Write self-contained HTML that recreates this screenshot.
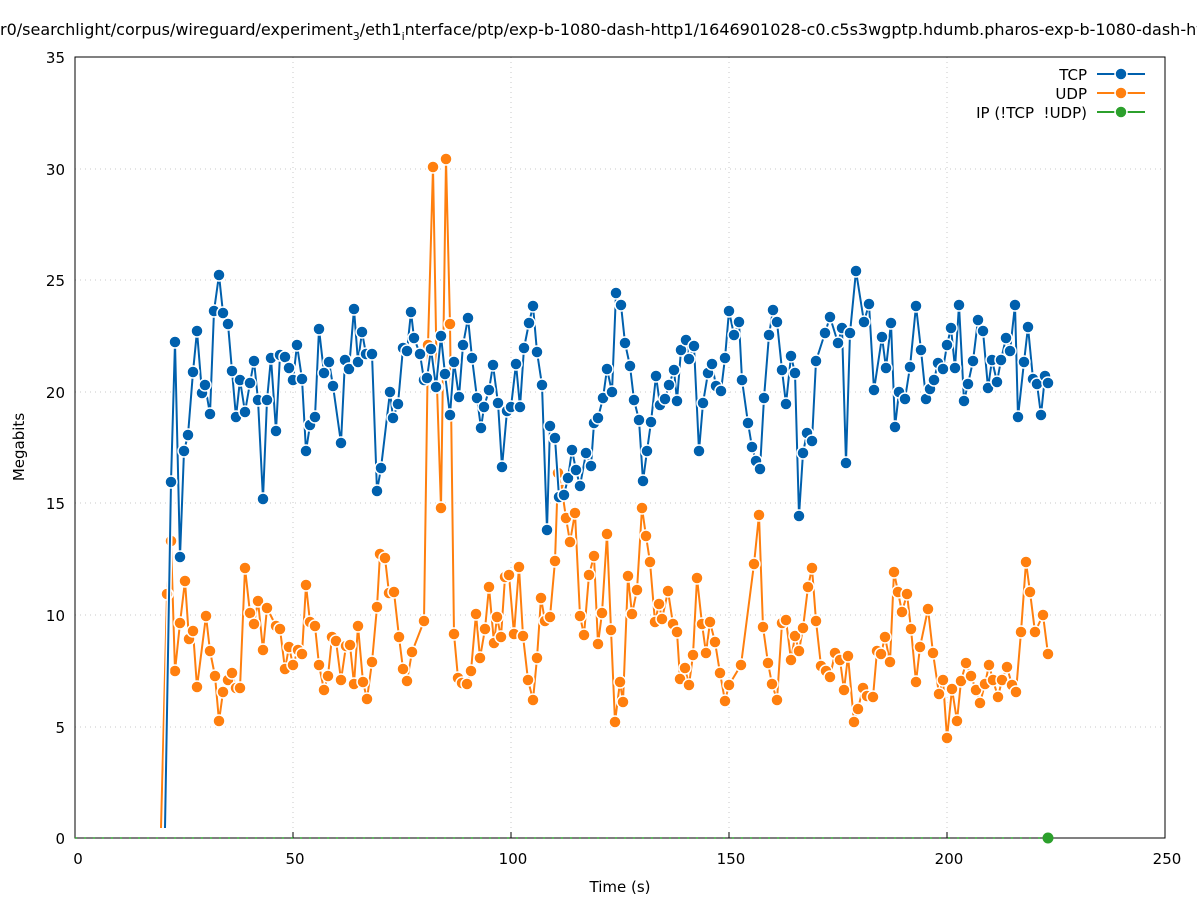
<!DOCTYPE html>
<html><head><meta charset="utf-8"><style>
html,body{margin:0;padding:0;background:#fff;width:1197px;height:900px;overflow:hidden}
svg{display:block;font-family:"DejaVu Sans","Liberation Sans",sans-serif}
</style></head><body>
<svg id="s" width="1197" height="900" viewBox="0 0 1197 900" xmlns="http://www.w3.org/2000/svg">
<rect width="1197" height="900" fill="#fff"/>
<g stroke="#c8c8c8" stroke-width="1" stroke-dasharray="1,4">
<line x1="75" y1="727" x2="1165" y2="727"/><line x1="75" y1="615" x2="1165" y2="615"/><line x1="75" y1="503" x2="1165" y2="503"/><line x1="75" y1="392" x2="1165" y2="392"/><line x1="75" y1="280" x2="1165" y2="280"/><line x1="75" y1="169" x2="1165" y2="169"/>
<line x1="293" y1="57" x2="293" y2="838"/><line x1="511" y1="57" x2="511" y2="838"/><line x1="729" y1="57" x2="729" y2="838"/><line x1="947" y1="57" x2="947" y2="838"/>
</g>
<rect x="75" y="57" width="1090" height="781" fill="none" stroke="#000" stroke-width="1"/>
<g font-size="15" fill="#000" text-anchor="end">
<text x="65" y="844">0</text><text x="65" y="733">5</text><text x="65" y="621">10</text><text x="65" y="509">15</text><text x="65" y="398">20</text><text x="65" y="286">25</text><text x="65" y="175">30</text><text x="65" y="63">35</text>
</g>
<g font-size="15" fill="#000" text-anchor="middle">
<text x="78" y="864">0</text><text x="295" y="864">50</text><text x="513" y="864">100</text><text x="731" y="864">150</text><text x="949" y="864">200</text><text x="1167" y="864">250</text>
<text x="620" y="892">Time (s)</text>
<text x="0" y="0" transform="translate(24,447) rotate(-90)">Megabits</text>
</g>
<g stroke="#000"><line x1="75" y1="838" x2="75" y2="832"/><line x1="293" y1="838" x2="293" y2="832"/><line x1="511" y1="838" x2="511" y2="832"/><line x1="729" y1="838" x2="729" y2="832"/><line x1="947" y1="838" x2="947" y2="832"/></g>
<text x="0" y="35" font-size="16" fill="#000">r0/searchlight/corpus/wireguard/experiment<tspan font-size="11" dy="5">3</tspan><tspan dy="-5">/eth1</tspan><tspan font-size="11" dy="5">i</tspan><tspan dy="-5">nterface/ptp/exp-b-1080-dash-http1/1646901028-c0.c5s3wgptp.hdumb.pharos-exp-b-1080-dash-http1</tspan></text>
<line x1="75" y1="838" x2="1048" y2="838" stroke="#2ca02c" stroke-width="1.5" stroke-dasharray="2,7"/>
<g id="d"></g>
<g font-size="15" fill="#000" text-anchor="end">
<text x="1087" y="80">TCP</text><text x="1087" y="99">UDP</text><text x="1087" y="118" xml:space="preserve">IP (!TCP  !UDP)</text>
</g>
</svg>
<script>
var T=[165,828,171,482,175,342,180,557,184,451,188,435,193,372,197,331,202,393,205,385,210,414,214,311,219,275,223,313,228,324,232,371,236,417,240,380,245,412,250,383,254,361,258,400,263,499,267,400,271,358,276,431,280,355,285,357,289,368,293,380,297,345,302,379,306,451,310,425,315,417,319,329,324,373,329,362,333,386,341,443,345,360,349,369,354,309,358,362,362,332,366,354,372,354,377,491,381,468,390,392,393,418,398,404,403,348,407,351,411,312,414,338,420,354,424,380,427,378,431,349,436,387,441,336,445,374,450,415,454,362,459,397,463,345,468,318,472,358,477,398,481,428,484,407,489,390,493,365,498,403,502,467,507,411,511,407,516,364,520,407,524,348,529,323,533,306,537,352,542,385,547,530,550,426,555,438,559,497,564,495,568,478,572,450,576,470,580,486,586,453,591,466,594,423,598,418,603,398,607,369,612,392,616,293,621,305,625,343,630,366,634,400,639,420,643,481,647,451,651,422,656,376,660,405,665,399,669,385,674,370,677,401,681,350,686,340,689,359,694,346,699,451,703,403,708,373,712,364,716,386,721,391,725,358,729,311,734,335,739,322,742,380,748,423,752,447,756,461,760,469,764,398,769,335,773,310,777,322,782,370,786,404,791,356,795,373,799,516,803,453,807,433,812,441,816,361,825,333,830,317,838,343,842,328,846,463,850,333,856,271,864,322,869,304,874,390,882,337,886,368,891,323,895,427,899,392,905,399,910,367,916,306,921,350,926,399,930,389,934,380,938,363,943,369,947,345,951,328,955,368,959,305,964,401,968,384,973,361,978,320,983,331,988,388,992,360,997,382,1001,360,1006,338,1010,351,1015,305,1018,417,1024,362,1028,327,1033,379,1037,384,1041,415,1045,376,1048,383];
var U=[161,828,167,594,171,541,175,671,180,623,185,581,189,639,193,631,197,687,206,616,210,651,215,676,219,721,223,692,228,680,232,673,236,688,240,688,245,568,250,613,254,624,258,601,263,650,267,608,276,626,280,629,285,669,289,647,293,665,298,650,302,654,306,585,310,622,315,626,319,665,324,690,328,676,332,637,336,641,341,680,346,646,350,645,354,684,358,626,363,682,367,699,372,662,377,607,380,554,385,558,389,593,394,592,399,637,403,669,407,681,412,652,424,621,428,345,433,167,437,387,441,508,446,159,450,324,454,634,458,678,462,683,467,684,471,671,476,614,480,658,485,629,489,587,494,643,497,617,501,637,505,577,509,575,514,634,519,567,523,636,528,680,533,700,537,658,541,598,545,621,550,617,555,561,558,473,562,490,566,518,570,542,575,513,580,616,584,635,589,575,594,556,598,644,602,613,607,534,611,630,615,722,620,682,623,702,628,576,632,614,637,590,642,508,646,536,650,562,655,622,659,604,662,619,668,591,673,624,677,632,680,679,685,668,689,685,693,655,697,578,702,624,706,653,710,622,715,642,720,673,725,701,729,685,741,665,754,564,759,515,763,627,768,663,772,684,777,700,782,623,786,620,791,660,795,636,799,651,803,628,808,587,812,568,816,621,821,666,826,671,830,677,835,653,840,660,844,690,848,656,854,722,858,709,863,688,867,696,873,697,877,651,881,654,885,637,890,662,894,572,898,592,902,612,907,594,911,629,916,682,920,647,928,609,933,653,939,694,943,680,947,738,952,689,957,721,961,681,966,663,971,676,976,690,980,703,985,684,989,665,993,680,998,697,1002,680,1007,667,1012,685,1016,692,1021,632,1026,562,1030,592,1035,632,1043,615,1048,654];
var g=document.getElementById('d'),h='';
function ser(a,c){var p='';for(var i=0;i<a.length;i+=2)p+=a[i]+','+a[i+1]+' ';
h+='<polyline points="'+p+'" fill="none" stroke="#fff" stroke-width="5" stroke-linejoin="round"/>';
h+='<polyline points="'+p+'" fill="none" stroke="'+c+'" stroke-width="2" stroke-linejoin="round"/>';
for(var i=2;i<a.length;i+=2)h+='<circle cx="'+a[i]+'" cy="'+a[i+1]+'" r="6" fill="'+c+'" stroke="#fff" stroke-width="1.5"/>';}
ser(U,'#ff7f0e');ser(T,'#0060ad');
h+='<circle cx="1048" cy="838" r="5.5" fill="#2ca02c"/>';
h+='<line x1="1097" y1="74" x2="1145" y2="74" stroke="#0060ad" stroke-width="2"/><circle cx="1121" cy="74" r="6" fill="#0060ad" stroke="#fff" stroke-width="1.5"/>';
h+='<line x1="1097" y1="93" x2="1145" y2="93" stroke="#ff7f0e" stroke-width="2"/><circle cx="1121" cy="93" r="6" fill="#ff7f0e" stroke="#fff" stroke-width="1.5"/>';
h+='<line x1="1097" y1="112" x2="1145" y2="112" stroke="#2ca02c" stroke-width="2"/><circle cx="1121" cy="112" r="6" fill="#2ca02c" stroke="#fff" stroke-width="1.5"/>';
g.innerHTML=h;
</script>
</body></html>
